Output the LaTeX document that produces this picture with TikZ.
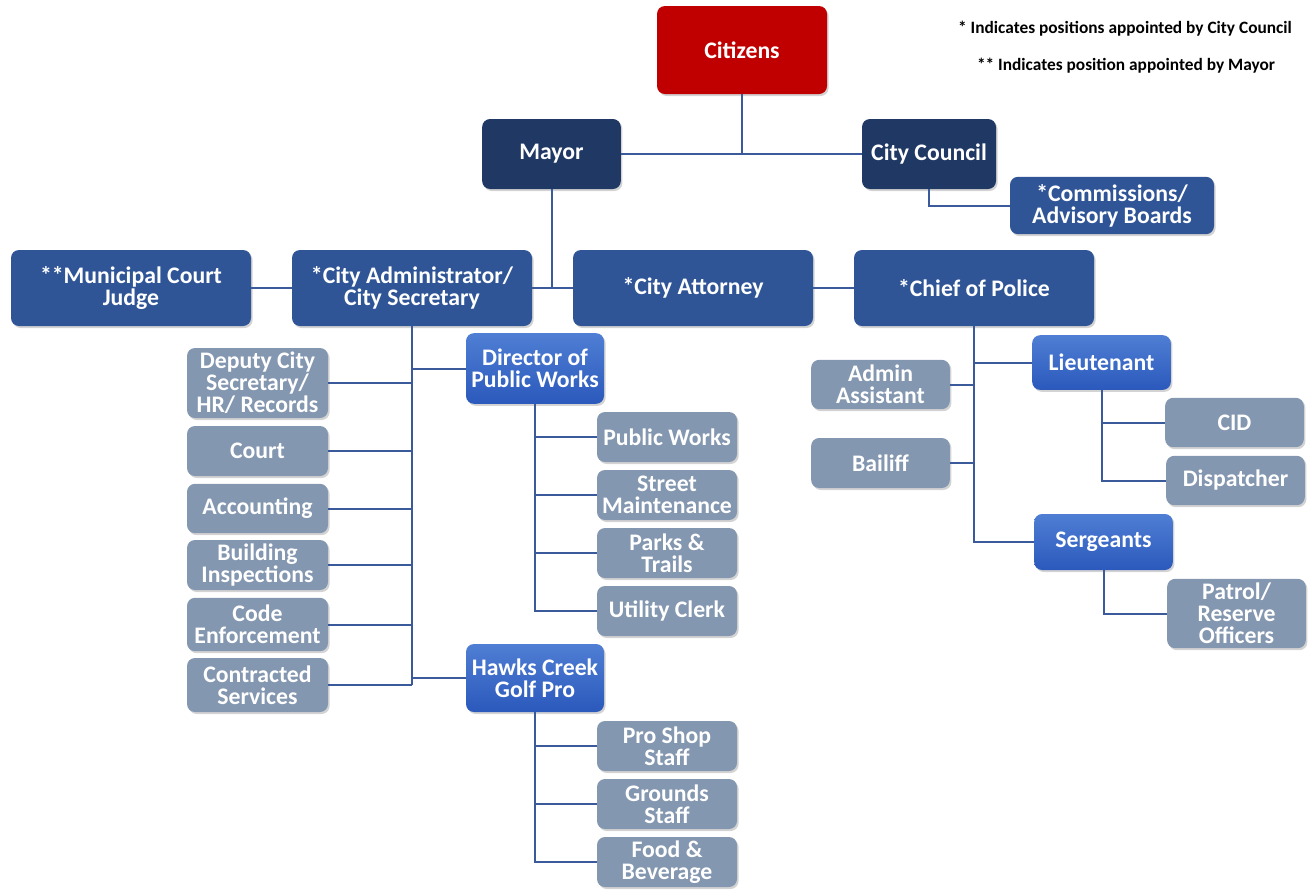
\documentclass[tikz,border=0pt]{standalone}
\usepackage{fontspec}
\setmainfont{Carlito}
\usetikzlibrary{shadows}
\definecolor{cred}{HTML}{C00000}
\definecolor{cnavy}{HTML}{203864}
\definecolor{cmid}{HTML}{2F5597}
\definecolor{cbrtop}{HTML}{4F7ED4}
\definecolor{cbrbot}{HTML}{2B59BC}
\definecolor{cgray}{HTML}{8497B0}
\definecolor{cline}{HTML}{3A5A9C}
\begin{document}
\begin{tikzpicture}[x=0.75pt,y=-0.75pt,
  base/.style={rounded corners=6pt, text=white, align=center, inner sep=1pt,
    font=\bfseries\fontsize{17.8}{16.5}\selectfont,
    drop shadow={shadow xshift=1.2pt, shadow yshift=-1.5pt, opacity=0.35}},
  redbox/.style={base, fill=cred},
  navybox/.style={base, fill=cnavy},
  midbox/.style={base, fill=cmid},
  brbox/.style={base, top color=cbrtop, bottom color=cbrbot},
  graybox/.style={base, fill=cgray},
  conn/.style={draw=cline, line width=1.5pt},
  legend/.style={font=\bfseries\fontsize{13}{15}\selectfont, text=black}]
\useasboundingbox (0,0) rectangle (1315,890);
% top
\node[redbox, minimum width=127.5pt, minimum height=66pt] (cit) at (742,50) {Citizens};
\node[navybox, minimum width=104pt, minimum height=52.5pt] (may) at (551.5,154) {Mayor};
\node[navybox, minimum width=100.5pt, minimum height=52.5pt] (cc) at (929,154) {City Council};
\node[midbox, minimum width=153pt, minimum height=43pt] (com) at (1112,205.5) {*Commissions/\\Advisory Boards};
% second row
\node[midbox, minimum width=180pt, minimum height=57pt] (mcj) at (131,288) {**Municipal Court\\Judge};
\node[midbox, minimum width=180pt, minimum height=57pt] (adm) at (412,288) {*City Administrator/\\City Secretary};
\node[midbox, minimum width=180pt, minimum height=57pt] (att) at (693,288) {*City Attorney};
\node[midbox, minimum width=180pt, minimum height=57pt] (cop) at (974,288) {*Chief of Police};
% admin left column
\node[graybox, minimum width=105.75pt, minimum height=52.5pt] (dep) at (257.5,383) {Deputy City\\Secretary/\\HR/ Records};
\node[graybox, minimum width=105.75pt, minimum height=37.5pt] (crt) at (257.5,451) {Court};
\node[graybox, minimum width=105.75pt, minimum height=37pt] (acc) at (257.5,508.5) {Accounting};
\node[graybox, minimum width=105.75pt, minimum height=37.5pt] (bld) at (257.5,565) {Building\\Inspections};
\node[graybox, minimum width=105.75pt, minimum height=40pt] (cod) at (257.5,624.5) {Code\\Enforcement};
\node[graybox, minimum width=105.75pt, minimum height=40.5pt] (con) at (257.5,685) {Contracted\\Services};
% public works
\node[brbox, minimum width=103.5pt, minimum height=53pt] (dpw) at (535,368.5) {Director of\\Public Works};
\node[graybox, minimum width=105pt, minimum height=37.5pt] (pw) at (667,437) {Public Works};
\node[graybox, minimum width=105pt, minimum height=37.5pt] (stm) at (667,495) {Street\\Maintenance};
\node[graybox, minimum width=105pt, minimum height=37.5pt] (prk) at (667,553) {Parks \&\\Trails};
\node[graybox, minimum width=105pt, minimum height=37.5pt] (utc) at (667,611) {Utility Clerk};
% golf
\node[brbox, minimum width=103.5pt, minimum height=51pt] (hcg) at (535,678) {Hawks Creek\\Golf Pro};
\node[graybox, minimum width=105pt, minimum height=37.5pt] (pss) at (667,746) {Pro Shop\\Staff};
\node[graybox, minimum width=105pt, minimum height=37.5pt] (grs) at (667,804) {Grounds\\Staff};
\node[graybox, minimum width=105pt, minimum height=37.5pt] (fnb) at (667,862) {Food \&\\Beverage};
% police
\node[graybox, minimum width=104pt, minimum height=37pt] (aas) at (880.5,384.5) {Admin\\Assistant};
\node[graybox, minimum width=104pt, minimum height=37.5pt] (bai) at (880.5,463) {Bailiff};
\node[brbox, minimum width=104pt, minimum height=41pt] (lt) at (1101.5,362.5) {Lieutenant};
\node[graybox, minimum width=104pt, minimum height=37pt] (cid) at (1234.5,422.5) {CID};
\node[graybox, minimum width=104pt, minimum height=37pt] (dsp) at (1235.5,480.5) {Dispatcher};
\node[brbox, minimum width=104pt, minimum height=42pt] (sgt) at (1103.5,542) {Sergeants};
\node[graybox, minimum width=104pt, minimum height=52pt] (pat) at (1236.5,613.5) {Patrol/\\Reserve\\Officers};
% legend
\node[legend] (lg1) at (1125,29) {* Indicates positions appointed by City Council};
\node[legend] (lg2) at (1126,66) {** Indicates position appointed by Mayor};
% connectors
\draw[conn] (cit.south) -- (cit.south |- may.east);
\draw[conn] (may.east) -- (cc.west);
\draw[conn] (cc.south) |- (com.west);
\draw[conn] (may.south) -- (may.south |- adm.east);
\draw[conn] (adm.east) -- (att.west);
\draw[conn] (mcj.east) -- (adm.west);
\draw[conn] (att.east) -- (cop.west);
\draw[conn] (adm.south) -- (adm.south |- con.east);
\foreach \n in {dep,crt,acc,bld,cod,con} \draw[conn] (\n.east) -- (\n.east -| adm.south);
\draw[conn] (dpw.west) -- (dpw.west -| adm.south);
\draw[conn] (hcg.west) -- (hcg.west -| adm.south);
\foreach \n in {pw,stm,prk,utc} \draw[conn] (dpw.south) |- (\n.west);
\foreach \n in {pss,grs,fnb} \draw[conn] (hcg.south) |- (\n.west);
\draw[conn] (cop.south) |- (lt.west);
\draw[conn] (cop.south) |- (sgt.west);
\draw[conn] (aas.east) -- (aas.east -| cop.south);
\draw[conn] (bai.east) -- (bai.east -| cop.south);
\foreach \n in {cid,dsp} \draw[conn] (lt.south) |- (\n.west);
\draw[conn] (sgt.south) |- (pat.west);
\end{tikzpicture}
\end{document}
